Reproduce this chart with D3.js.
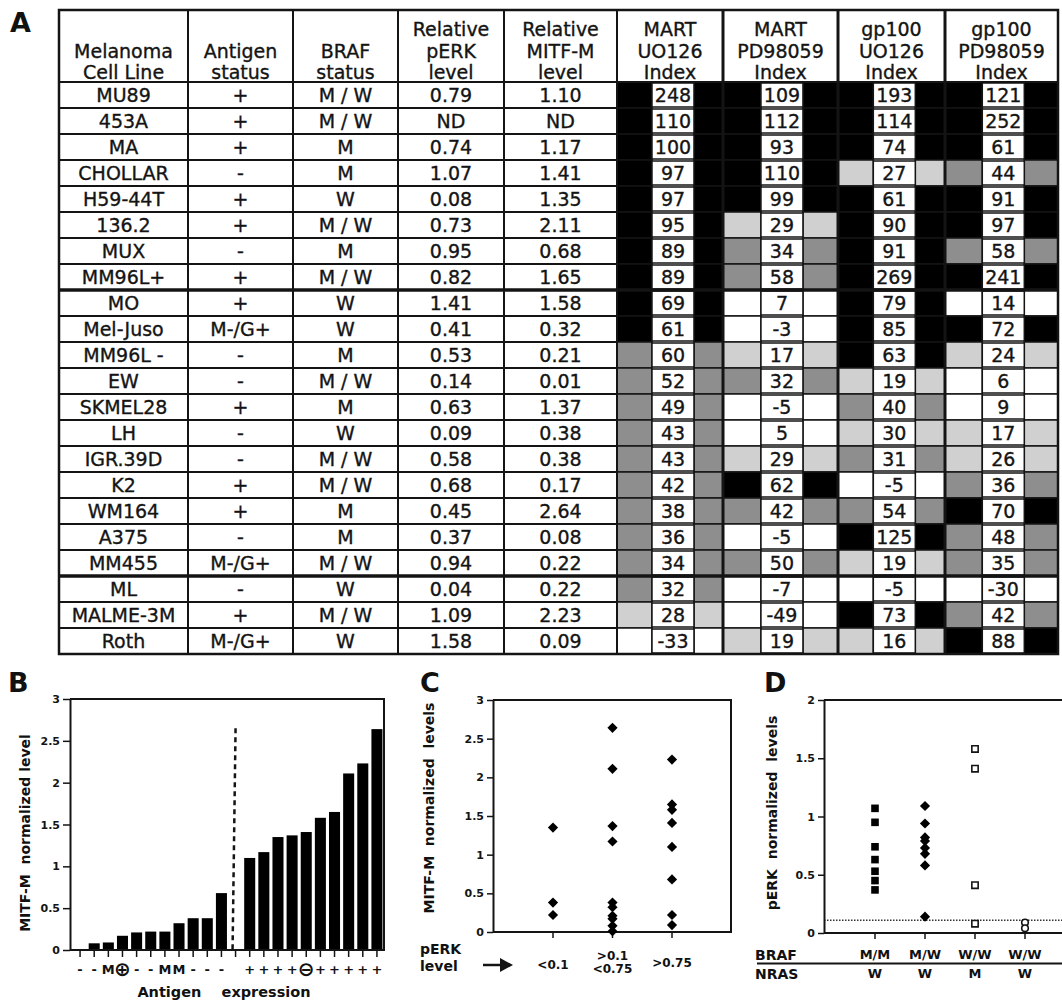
<!DOCTYPE html>
<html>
<head>
<meta charset="utf-8">
<title>MITF-M and pERK in melanoma cell lines</title>
<script src="https://d3js.org/d3.v7.min.js"></script>
<style>
  body { margin: 0; background: #fff; }
  svg { font-family: "DejaVu Sans", sans-serif; }
  .lab { font-weight: bold; fill: #111; }
</style>
</head>
<body>
<script>
var width = 1062
var height = 1001

// ---------- A: table ----------
var headers = [
  ["Melanoma", "Cell Line"], ["Antigen", "status"], ["BRAF", "status"],
  ["Relative", "pERK", "level"], ["Relative", "MITF-M", "level"],
  ["MART", "UO126", "Index"], ["MART", "PD98059", "Index"],
  ["gp100", "UO126", "Index"], ["gp100", "PD98059", "Index"]
]
var cellLines = ["MU89","453A","MA","CHOLLAR","H59-44T","136.2","MUX","MM96L+","MO","Mel-Juso","MM96L -","EW","SKMEL28","LH","IGR.39D","K2","WM164","A375","MM455","ML","MALME-3M","Roth"]
var antigen = ["+","+","+","-","+","+","-","+","+","M-/G+","-","-","+","-","-","+","+","-","M-/G+","-","+","M-/G+"]
var braf = ["M / W","M / W","M","M","W","M / W","M","M / W","W","W","M","M / W","M","W","M / W","M / W","M","M","M / W","W","M / W","W"]
var perk = ["0.79","ND","0.74","1.07","0.08","0.73","0.95","0.82","1.41","0.41","0.53","0.14","0.63","0.09","0.58","0.68","0.45","0.37","0.94","0.04","1.09","1.58"]
var mitf = ["1.10","ND","1.17","1.41","1.35","2.11","0.68","1.65","1.58","0.32","0.21","0.01","1.37","0.38","0.38","0.17","2.64","0.08","0.22","0.22","2.23","0.09"]
var martUO = [248,110,100,97,97,95,89,89,69,61,60,52,49,43,43,42,38,36,34,32,28,-33]
var martPD = [109,112,93,110,99,29,34,58,7,-3,17,32,-5,5,29,62,42,-5,50,-7,-49,19]
var gpUO = [193,114,74,27,61,90,91,269,79,85,63,19,40,30,31,-5,54,125,19,-5,73,16]
var gpPD = [121,252,61,44,91,97,58,241,14,72,24,6,9,17,26,36,70,48,35,-30,42,88]
var groupBreaks = [8, 19]   // thick rules before these rows

// ---------- B: MITF-M sorted by antigen expression ----------
var lowMitf = [0.01,0.08,0.09,0.17,0.21,0.22,0.22,0.32,0.38,0.38,0.68]
var lowAntigen = ["-","-","M","⊕","-","-","M","M","-","-","-"]
var highMitf = [1.10,1.17,1.35,1.37,1.41,1.58,1.65,2.11,2.23,2.64]
var highAntigen = ["+","+","+","+","⊖","+","+","+","+","+"]
var bTicks = [0,0.5,1,1.5,2,2.5,3]

// ---------- C: MITF-M by pERK level ----------
var cCats = [["<0.1"], [">0.1","<0.75"], [">0.75"]]
var cLow = [1.35,0.38,0.22]
var cMid = [2.64,2.11,1.37,1.17,0.38,0.32,0.21,0.17,0.08,0.01]
var cHigh = [2.23,1.65,1.58,1.41,1.10,0.68,0.22,0.09]
var cTicks = [0,0.5,1,1.5,2,2.5,3]

// ---------- D: pERK by BRAF / NRAS ----------
var dBraf = ["M/M","M/W","W/W","W/W"]
var dNras = ["W","W","M","W"]
var dMM = [1.07,0.95,0.74,0.63,0.53,0.45,0.37]
var dMW = [1.09,0.94,0.82,0.79,0.73,0.68,0.58,0.14]
var dWWM = [1.58,1.41,0.41,0.08]
var dWWW = [0.09,0.04]
var dCutoff = 0.11
var dTicks = [0,0.5,1,1.5,2]

var svg = d3.select("body").append("svg")
  .attr("width", width)
  .attr("height", height)

svg.append("rect").attr("width", width).attr("height", height).attr("fill", "#fff")

// ===== table =====
var colX = [59,188,293,398,504,617,723,838,945,1058]
var headTop = 10, headBottom = 82, tableBottom = 654
var y = d3.scaleBand().domain(d3.range(cellLines.length)).range([headBottom, tableBottom])
var shade = d3.scaleThreshold().domain([15, 30.5, 60.5])
  .range(["#ffffff", "#d0d0d0", "#8e8e8e", "#000000"])
var ink = "#141414"
var table = svg.append("g").attr("font-size", 19).attr("fill", ink)
  .attr("stroke", ink).attr("stroke-width", 0.35)

var indexCols = [martUO, martPD, gpUO, gpPD]
indexCols.forEach(function(vals, c) {
  var x0 = colX[5 + c], x1 = colX[6 + c]
  var bx = x0 + (x1 - x0) * 0.33, bw = 42
  var rows = table.append("g").selectAll("g").data(vals).enter().append("g")
    .attr("transform", (d, i) => "translate(0," + y(i) + ")")
  rows.append("rect").attr("x", x0).attr("width", bx - x0).attr("height", y.bandwidth())
    .attr("fill", d => shade(d)).attr("stroke", ink).attr("stroke-width", 1.5)
  rows.append("rect").attr("x", bx + bw).attr("width", x1 - bx - bw).attr("height", y.bandwidth())
    .attr("fill", d => shade(d)).attr("stroke", ink).attr("stroke-width", 1.5)
  rows.append("rect").attr("x", bx).attr("y", 1).attr("width", bw).attr("height", y.bandwidth() - 2)
    .attr("fill", "#fff").attr("stroke", ink).attr("stroke-width", 1.5)
  rows.append("text").attr("x", bx + bw / 2).attr("y", y.bandwidth() / 2).attr("dy", "0.36em")
    .attr("text-anchor", "middle").text(d => d)
})

var leftCols = [cellLines, antigen, braf, perk, mitf]
leftCols.forEach(function(vals, c) {
  table.append("g").selectAll("text").data(vals).enter().append("text")
    .attr("x", (colX[c] + colX[c + 1]) / 2)
    .attr("y", (d, i) => y(i) + y.bandwidth() / 2)
    .attr("dy", "0.36em")
    .attr("text-anchor", "middle")
    .text(d => d)
})

headers.forEach(function(lines, c) {
  var t = table.append("text").attr("text-anchor", "middle")
  lines.forEach(function(s, k) {
    t.append("tspan").attr("x", (colX[c] + colX[c + 1]) / 2)
      .attr("y", headBottom - 3 - (lines.length - 1 - k) * 21.5)
      .text(s)
  })
})

// grid
table.selectAll(".hline").data(d3.range(1, cellLines.length)).enter().append("line")
  .attr("x1", colX[0]).attr("x2", colX[5])
  .attr("y1", i => y(i)).attr("y2", i => y(i))
  .attr("stroke", ink).attr("stroke-width", 1.8)
table.selectAll(".vline").data(colX.slice(1, -1)).enter().append("line")
  .attr("x1", d => d).attr("x2", d => d)
  .attr("y1", headTop).attr("y2", tableBottom)
  .attr("stroke", ink).attr("stroke-width", (d, i) => i >= 5 ? 3 : 2)
table.append("line").attr("x1", colX[0]).attr("x2", colX[9])
  .attr("y1", headBottom).attr("y2", headBottom).attr("stroke", ink).attr("stroke-width", 2)
table.selectAll(".thick").data(groupBreaks).enter().append("line")
  .attr("x1", colX[0]).attr("x2", colX[9])
  .attr("y1", i => y(i)).attr("y2", i => y(i))
  .attr("stroke", ink).attr("stroke-width", 3.5)
table.append("rect").attr("x", colX[0]).attr("y", headTop)
  .attr("width", colX[9] - colX[0]).attr("height", tableBottom - headTop)
  .attr("fill", "none").attr("stroke", ink).attr("stroke-width", 2.5)

// panel letters
svg.selectAll(".letter").data([["A", 10, 32], ["B", 8, 692], ["C", 420, 692], ["D", 764, 692]])
  .enter().append("text").attr("class", "lab").attr("font-size", 27)
  .attr("x", d => d[1]).attr("y", d => d[2]).text(d => d[0])

function styleAxis(g, size) {
  g.attr("font-family", "DejaVu Sans").attr("font-size", size).attr("font-weight", "bold")
  g.select(".domain").attr("stroke", ink).attr("stroke-width", 2)
  g.selectAll(".tick line").attr("stroke", ink).attr("stroke-width", 1.5)
  g.selectAll(".tick text").attr("fill", ink)
}

function yTitle(text, x, yc) {
  svg.append("text").attr("class", "lab").attr("font-size", 14)
    .attr("transform", "translate(" + x + "," + yc + ") rotate(-90)")
    .attr("text-anchor", "middle").attr("dy", "0.35em")
    .style("white-space", "pre").text(text)
}

// ===== B =====
var bars = lowMitf.map((v, i) => ({key: "L" + i, v: v, lab: lowAntigen[i]}))
  .concat([{key: "div", v: null, lab: ""}])
  .concat(highMitf.map((v, i) => ({key: "H" + i, v: v, lab: highAntigen[i]})))
var xB = d3.scaleBand().domain(bars.map(d => d.key)).range([73, 384]).paddingInner(0.22).paddingOuter(0.11)
var yB = d3.scaleLinear().domain([0, 3]).range([950, 699])
var gB = svg.append("g")

gB.selectAll("rect").data(bars.filter(d => d.v !== null)).enter().append("rect")
  .attr("x", d => xB(d.key)).attr("width", xB.bandwidth())
  .attr("y", d => yB(d.v)).attr("height", d => yB(0) - yB(d.v))
  .attr("fill", "#000")

gB.append("path").attr("fill", "none").attr("stroke", ink).attr("stroke-width", 2)
  .attr("d", "M70," + yB(3) + "H384V" + yB(0) + "H70")
gB.append("line").attr("x1", xB("div") + xB.bandwidth() / 2).attr("x2", xB("div") + xB.bandwidth() / 2 - 3)
  .attr("y1", yB(2.65)).attr("y2", yB(0))
  .attr("stroke", ink).attr("stroke-width", 2.5).attr("stroke-dasharray", "5,4")
gB.selectAll(".xt").data(bars).enter().append("line")
  .attr("x1", d => xB(d.key) + xB.bandwidth() / 2).attr("x2", d => xB(d.key) + xB.bandwidth() / 2)
  .attr("y1", yB(0)).attr("y2", yB(0) + 7).attr("stroke", ink).attr("stroke-width", 1.5)
gB.selectAll(".xl").data(bars).enter().append("text").attr("class", "lab")
  .attr("x", d => xB(d.key) + xB.bandwidth() / 2)
  .attr("y", 969).attr("dy", "0.36em").attr("text-anchor", "middle")
  .attr("font-size", d => d.lab === "⊕" || d.lab === "⊖" ? 20 : 13)
  .text(d => d.lab)

var axB = gB.append("g").attr("transform", "translate(70,0)")
  .call(d3.axisLeft(yB).tickValues(bTicks).tickSize(7).tickSizeOuter(0).tickPadding(3).tickFormat(d3.format("")))
styleAxis(axB, 11)
yTitle("MITF-M  normalized level", 25, 833)
svg.append("text").attr("class", "lab").attr("font-size", 14.5)
  .attr("x", 224).attr("y", 997).attr("text-anchor", "middle")
  .style("white-space", "pre").text("Antigen    expression")

// ===== C =====
var xC = d3.scalePoint().domain([0, 1, 2]).range([553, 672])
var yC = d3.scaleLinear().domain([0, 3]).range([932, 700])
var gC = svg.append("g")
var diamond = d3.symbol(d3.symbolSquare, 52)
var cPts = [cLow, cMid, cHigh].flatMap((arr, k) => arr.map(v => ({k: k, v: v})))

gC.append("path").attr("fill", "none").attr("stroke", ink).attr("stroke-width", 2)
  .attr("d", "M493," + yC(3) + "H731V" + yC(0) + "H493")
gC.selectAll(".xt").data([0, 1, 2]).enter().append("line")
  .attr("x1", d => xC(d)).attr("x2", d => xC(d))
  .attr("y1", yC(0)).attr("y2", yC(0) + 6).attr("stroke", ink).attr("stroke-width", 1.5)
gC.selectAll(".pt").data(cPts).enter().append("path")
  .attr("d", diamond)
  .attr("transform", d => "translate(" + xC(d.k) + "," + yC(d.v) + ") rotate(45)")
  .attr("fill", "#000")
var axC = gC.append("g").attr("transform", "translate(493,0)")
  .call(d3.axisLeft(yC).tickValues(cTicks).tickSize(6).tickSizeOuter(0).tickPadding(3).tickFormat(d3.format("")))
styleAxis(axC, 11)
yTitle("MITF-M  normalized  levels", 429, 808)

gC.selectAll(".cl").data(cCats).enter().append("text").attr("class", "lab")
  .attr("font-size", 12).attr("text-anchor", "middle")
  .each(function(lines, k) {
    var t = d3.select(this)
    var base = lines.length === 1 ? (k === 0 ? 969 : 967) : 960
    lines.forEach(function(s, j) {
      t.append("tspan").attr("x", xC(k)).attr("y", base + j * 13).text(s)
    })
  })
svg.append("text").attr("class", "lab").attr("font-size", 14)
  .attr("x", 420).attr("y", 954).text("pERK")
svg.append("text").attr("class", "lab").attr("font-size", 14)
  .attr("x", 420).attr("y", 971).text("level")
svg.append("line").attr("x1", 483).attr("x2", 501).attr("y1", 965).attr("y2", 965)
  .attr("stroke", ink).attr("stroke-width", 2.5)
svg.append("path").attr("d", "M500,958L513,965L500,972Z").attr("fill", ink)

// ===== D =====
var xD = d3.scalePoint().domain([0, 1, 2, 3]).range([875, 1025])
var yD = d3.scaleLinear().domain([0, 2]).range([933, 700])
var gD = svg.append("g")
gD.append("path").attr("fill", "none").attr("stroke", ink).attr("stroke-width", 2)
  .attr("d", "M1062," + yD(2) + "H824M824," + yD(0) + "H1062")
gD.append("line").attr("x1", 824).attr("x2", 1062)
  .attr("y1", yD(dCutoff)).attr("y2", yD(dCutoff))
  .attr("stroke", "#333").attr("stroke-width", 1.4).attr("stroke-dasharray", "1.5,1.5")
gD.selectAll(".xt").data([0, 1, 2, 3]).enter().append("line")
  .attr("x1", d => xD(d)).attr("x2", d => xD(d))
  .attr("y1", yD(0)).attr("y2", yD(0) + 6).attr("stroke", ink).attr("stroke-width", 1.5)

var square = d3.symbol(d3.symbolSquare, 58)
gD.selectAll(".mm").data(dMM).enter().append("path").attr("d", square)
  .attr("transform", d => "translate(" + xD(0) + "," + yD(d) + ")").attr("fill", "#000")
gD.selectAll(".mw").data(dMW).enter().append("path").attr("d", diamond)
  .attr("transform", d => "translate(" + xD(1) + "," + yD(d) + ") rotate(45)").attr("fill", "#000")
gD.selectAll(".wwm").data(dWWM).enter().append("path").attr("d", d3.symbol(d3.symbolSquare, 40))
  .attr("transform", d => "translate(" + xD(2) + "," + yD(d) + ")")
  .attr("fill", "#fff").attr("stroke", ink).attr("stroke-width", 1.6)
gD.selectAll(".www").data(dWWW).enter().append("circle")
  .attr("cx", xD(3)).attr("cy", d => yD(d)).attr("r", 3.3)
  .attr("fill", "#fff").attr("stroke", ink).attr("stroke-width", 1.6)

var axD = gD.append("g").attr("transform", "translate(824,0)")
  .call(d3.axisLeft(yD).tickValues(dTicks).tickSize(6).tickSizeOuter(0).tickPadding(3).tickFormat(d3.format("")))
styleAxis(axD, 11)
yTitle("pERK  normalized  levels", 772, 813)

svg.append("text").attr("class", "lab").attr("font-size", 14).attr("x", 755).attr("y", 960).text("BRAF")
svg.append("text").attr("class", "lab").attr("font-size", 14).attr("x", 755).attr("y", 979).text("NRAS")
svg.append("line").attr("x1", 757).attr("x2", 1062).attr("y1", 963.5).attr("y2", 963.5)
  .attr("stroke", ink).attr("stroke-width", 2)
gD.selectAll(".bl").data(dBraf).enter().append("text").attr("class", "lab")
  .attr("font-size", 13).attr("text-anchor", "middle")
  .attr("x", (d, i) => xD(i)).attr("y", 959).text(d => d)
gD.selectAll(".nl").data(dNras).enter().append("text").attr("class", "lab")
  .attr("font-size", 13).attr("text-anchor", "middle")
  .attr("x", (d, i) => xD(i)).attr("y", 978).text(d => d)
</script>
</body>
</html>
